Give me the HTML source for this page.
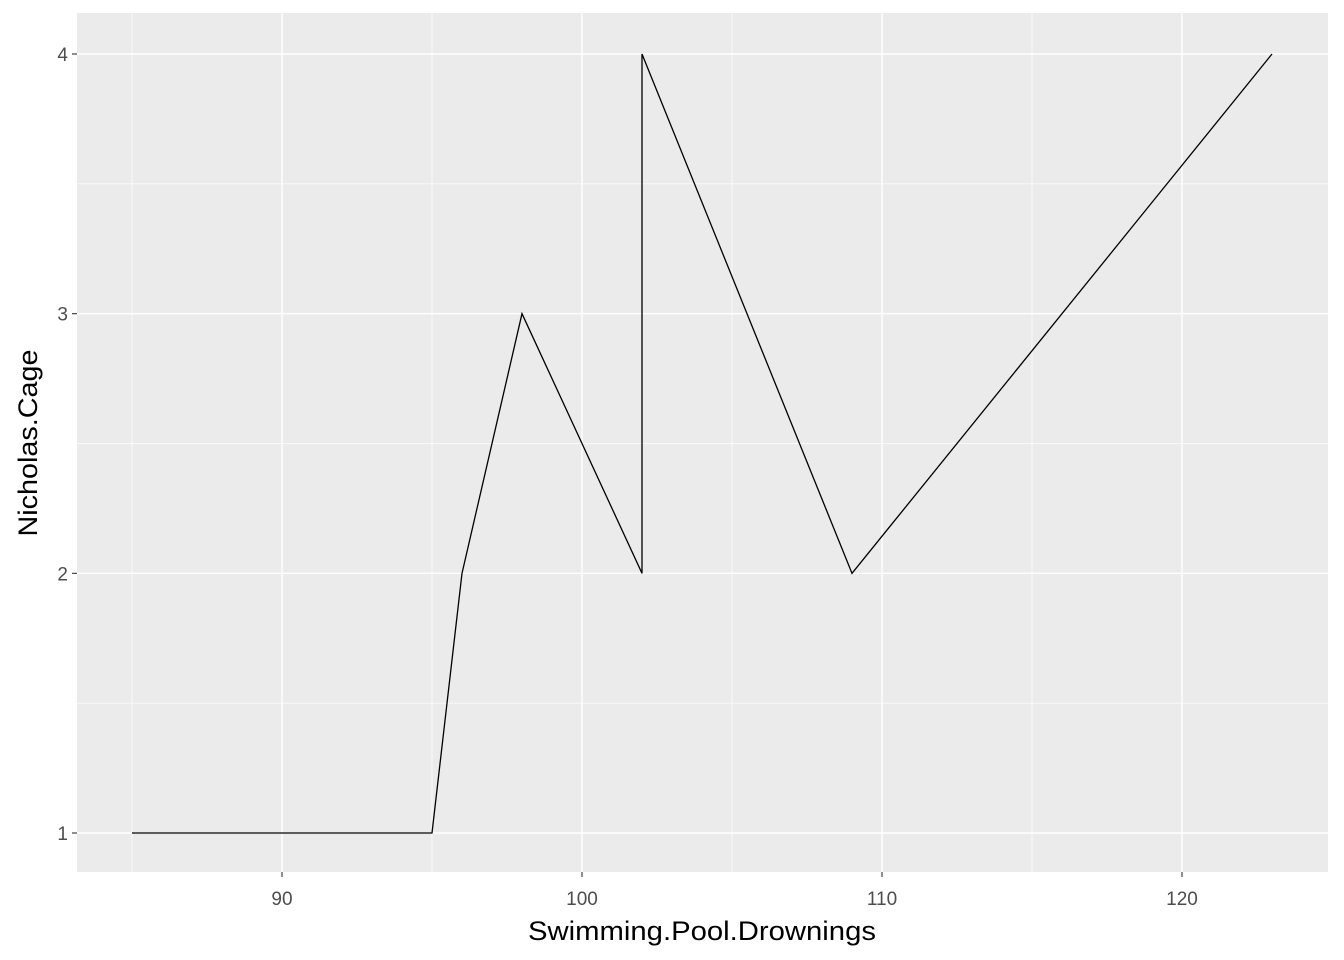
<!DOCTYPE html>
<html><head><meta charset="utf-8"><style>
body{margin:0;background:#fff;}
svg{display:block;font-family:"Liberation Sans",Arial,sans-serif;}
</style></head><body>
<svg id="chart" width="1344" height="960">
<rect x="77" y="13" width="1251" height="859" fill="#ebebeb"/>
<g id="grid"></g>
<g id="series"></g>
<g id="axes"></g>
<text x="702" y="940" font-size="27" text-anchor="middle" textLength="348" lengthAdjust="spacingAndGlyphs" fill="#000">Swimming.Pool.Drownings</text>
<text transform="translate(37,443) rotate(-90)" font-size="27" text-anchor="middle" textLength="187" lengthAdjust="spacingAndGlyphs" fill="#000">Nicholas.Cage</text>
</svg>
<script>
const xValues=[85,95,96,98,102,102,109,123];
const yValues=[1,1,2,3,2,4,2,4];
const xTicks=[90,100,110,120];
const yTicks=[1,2,3,4];
const xMinor=[85,95,105,115,125];
const yMinor=[1.5,2.5,3.5];
const NS="http://www.w3.org/2000/svg";
const L=77,R=1328,T=13,B=872;
const sx=v=>282+(v-90)*30;
const sy=v=>833-(v-1)*(833-54)/3;
function mk(tag,attrs,parent){const e=document.createElementNS(NS,tag);for(const k in attrs)e.setAttribute(k,attrs[k]);parent.appendChild(e);return e;}
const grid=document.getElementById('grid'),axes=document.getElementById('axes'),series=document.getElementById('series');
xMinor.forEach(v=>{const x=sx(v);if(x>R)return;const l=mk('line',{x1:x,x2:x,y1:T,y2:B,stroke:'#fff','stroke-width':0.7},grid);

});
yMinor.forEach(v=>{const y=sy(v);const l=mk('line',{x1:L,x2:R,y1:y,y2:y,stroke:'#fff','stroke-width':0.7},grid);

});
xTicks.forEach(v=>{const x=sx(v);const l=mk('line',{x1:x,x2:x,y1:T,y2:B,stroke:'#fff','stroke-width':1.4},grid);


const t=mk('line',{x1:x,x2:x,y1:B,y2:B+5,stroke:'#333','stroke-width':1.1},axes);


const tx=mk('text',{x:x,y:905,'font-size':19,'text-anchor':'middle',fill:'#4d4d4d'},axes);tx.textContent=v;

});
yTicks.forEach(v=>{const y=sy(v);const l=mk('line',{x1:L,x2:R,y1:y,y2:y,stroke:'#fff','stroke-width':1.4},grid);


const t=mk('line',{x1:L-5,x2:L,y1:y,y2:y,stroke:'#333','stroke-width':1.1},axes);


const tx=mk('text',{x:L-9,y:y+7,'font-size':19,'text-anchor':'end',fill:'#4d4d4d'},axes);tx.textContent=v;

});
const pts=xValues.map((x,i)=>sx(x)+','+sy(yValues[i])).join(' ');
const pl=mk('polyline',{points:pts,fill:'none',stroke:'#000','stroke-width':1.3},series);


</script>
</body></html>
